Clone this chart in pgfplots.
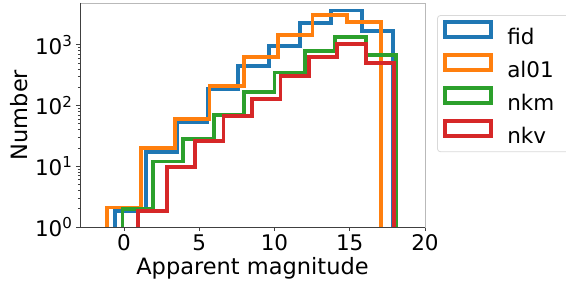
\documentclass[border=0pt]{standalone}
\usepackage{pgfplots}
\pgfplotsset{compat=1.18}
\usepackage{fontspec}
\setmainfont{DejaVu Sans}
\definecolor{tabblue}{HTML}{1F77B4}
\definecolor{taborange}{HTML}{FF7F0E}
\definecolor{tabgreen}{HTML}{2CA02C}
\definecolor{tabred}{HTML}{D62728}
\begin{document}
\begin{tikzpicture}
\begin{axis}[
  at={(0,0)}, anchor=south west,
  scale only axis, width=345pt, height=224pt,
  xmin=-2.92, xmax=20, ymin=1, ymax=4900, ymode=log,
  xtick={0,5,10,15,20},
  ytick={1,10,100,1000},
  yticklabels={{10\textsuperscript{0}},{10\textsuperscript{1}},{10\textsuperscript{2}},{10\textsuperscript{3}}},
  /pgf/number format/assume math mode=true,
  ticklabel style={font=\fontsize{21.5}{24}\selectfont},
  label style={font=\fontsize{22.5}{25}\selectfont},
  xlabel={Apparent magnitude}, ylabel={Number},
  tick align=outside, xtick pos=bottom, ytick pos=left,
  major tick length=4pt, minor tick length=2.2pt,
  tick style={black!75, line width=0.8pt},
  axis line style={gray!55, line width=0.9pt},
  every axis plot/.append style={const plot mark left, line width=3.8pt, line join=miter, mark=none},
  legend image code/.code={\draw[#1,line width=3.8pt,line join=miter,sharp corners] (0pt,0pt) rectangle (46pt,15pt);},
  legend style={at={(1.035,0.946)}, anchor=north west, draw=gray!30, line width=0.8pt, rounded corners=3pt,
    font=\fontsize{21.5}{24}\selectfont, inner xsep=6pt, inner ysep=5pt, row sep=5pt,
    nodes={inner xsep=7pt}, /tikz/column 2/.style={column sep=0pt, nodes={inner xsep=14pt}}},
  legend cell align=left,
]
% fid
\addplot[tabblue] coordinates {
 (-0.6,0.5) (-0.6,1.85) (1.45,17) (3.5,54) (5.55,185) (7.6,455) (9.65,960) (11.7,2320) (13.75,3700) (15.8,1700) (17.85,0.5)};
\addlegendentry{fid}
% al01
\addplot[taborange] coordinates {
 (-1.15,0.5) (-1.15,2.1) (1.13,20) (3.41,60) (5.69,210) (7.97,625) (10.25,1450) (12.53,3100) (14.81,2400) (17.09,0.5)};
\addlegendentry{al01}
% nkm
\addplot[tabgreen] coordinates {
 (-0.1,0.5) (-0.1,1.95) (1.92,12) (3.94,28) (5.96,70) (7.98,166) (10.0,350) (12.02,800) (14.04,1330) (16.06,680) (18.07,0.5)};
\addlegendentry{nkm}
% nkv
\addplot[tabred] coordinates {
 (0.95,0.5) (0.95,1.85) (2.84,9.7) (4.73,26) (6.62,68) (8.51,129) (10.4,310) (12.29,640) (14.18,1020) (16.07,500) (17.96,0.5)};
\addlegendentry{nkv}
\draw[black!75, line width=0.9pt] (rel axis cs:0,1) -- (rel axis cs:0,0) -- (rel axis cs:1,0);
\end{axis}
\pgfresetboundingbox
\path (-80pt,-60pt) rectangle (486pt,227pt);
\end{tikzpicture}
\end{document}
